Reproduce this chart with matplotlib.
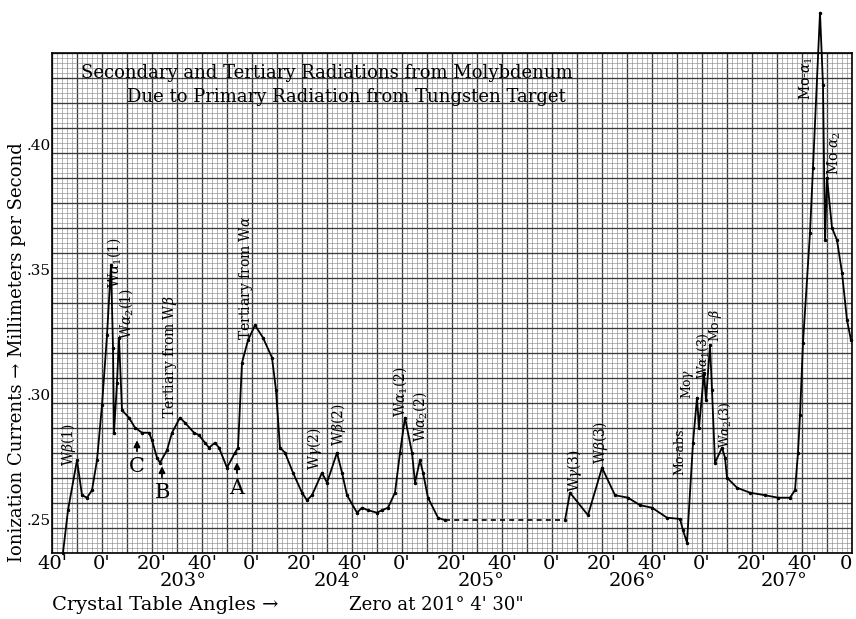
import matplotlib
matplotlib.use("Agg")
import matplotlib.pyplot as plt
import numpy as np

plt.rcParams['font.family'] = ['DejaVu Serif']
plt.rcParams['mathtext.fontset'] = 'dejavuserif'

# crystal table angle, minutes past 202 deg 0'
seg1_x = [44.4, 46.4, 50.0, 52.0, 54.0, 56.0, 58.0, 60.0, 62.0, 63.6,
          64.4, 64.8, 66.0, 66.8, 68.0, 70.8, 73.2, 76.0, 78.8, 80.0,
          82.0, 83.2, 86.0, 88.0, 91.2, 93.2, 96.8, 98.8, 101.2, 102.8,
          105.2, 106.8, 110.0, 113.2, 114.4, 116.0, 118.4, 121.2, 124.4, 128.0,
          129.6, 131.2, 133.2, 136.4, 140.0, 142.0, 144.0, 148.0, 150.0, 154.0,
          156.0, 158.0, 162.0, 164.0, 166.4, 170.0, 172.0, 174.4, 177.2, 179.2,
          181.2, 184.0, 185.2, 187.2, 188.4, 190.4, 194.4, 197.2]
seg1_y = [0.240, 0.257, 0.277, 0.263, 0.262, 0.265, 0.277, 0.299, 0.327, 0.355,
          0.322, 0.288, 0.308, 0.326, 0.297, 0.294, 0.290, 0.288, 0.288, 0.285,
          0.278, 0.276, 0.281, 0.288, 0.294, 0.292, 0.288, 0.287, 0.284, 0.282,
          0.284, 0.282, 0.274, 0.280, 0.282, 0.316, 0.325, 0.331, 0.326, 0.318,
          0.305, 0.282, 0.280, 0.272, 0.264, 0.261, 0.263, 0.272, 0.268, 0.280,
          0.272, 0.263, 0.256, 0.258, 0.257, 0.256, 0.257, 0.258, 0.264, 0.280,
          0.294, 0.280, 0.268, 0.277, 0.272, 0.262, 0.254, 0.253]

gap_x = [197.2, 245.2]
gap_y = [0.253, 0.253]

seg2_x = [245.2, 247.2, 254.4, 260.0, 265.2, 270.4, 275.2, 280.0, 286.0, 291.2,
          292.4, 294.0, 296.4, 298.0, 298.8, 300.8, 301.6, 303.2, 304.0, 305.2,
          308.0, 309.2, 310.0, 314.0, 319.2, 325.2, 330.4, 335.2, 337.2, 338.4,
          339.2, 340.4, 343.2, 344.4, 347.2, 348.4, 349.2, 350.0, 352.0, 354.0,
          356.0, 358.0, 359.6]
seg2_y = [0.253, 0.264, 0.255, 0.274, 0.263, 0.262, 0.259, 0.258, 0.254, 0.2535,
          0.249, 0.244, 0.284, 0.302, 0.290, 0.312, 0.301, 0.323, 0.305, 0.276,
          0.282, 0.278, 0.270, 0.266, 0.264, 0.263, 0.262, 0.262, 0.265, 0.280,
          0.295, 0.324, 0.368, 0.394, 0.456, 0.427, 0.365, 0.390, 0.370, 0.365,
          0.352, 0.333, 0.325]

# line labels (text, angle, current)
peak_names = ["W$\\beta$(1)", "W$\\alpha_1$(1)", "W$\\alpha_2$(1)",
              "Tertiary from W$\\beta$", "Tertiary from W$\\alpha$",
              "W$\\gamma$(2)", "W$\\beta$(2)", "W$\\alpha_1$(2)", "W$\\alpha_2$(2)",
              "W$\\gamma$(3)", "W$\\beta$(3)", "Mo-abs.", "Mo$\\gamma$",
              "W$\\alpha_1$(3)", "Mo-$\\beta$", "W$\\alpha_2$(3)",
              "Mo-$\\alpha_1$", "Mo-$\\alpha_2$"]
peak_x = [46.4, 64.8, 69.6, 87.2, 117.6, 144.8, 154.4, 179.2, 187.2,
          248.8, 259.2, 291.2, 294.4, 300.4, 305.4, 309.2, 341.6, 352.8]
peak_y = [0.2831, 0.3559, 0.3355, 0.3183, 0.3499, 0.2815, 0.2911, 0.3043, 0.2943,
          0.2727, 0.2839, 0.2811, 0.3075, 0.3187, 0.3311, 0.2911, 0.4299, 0.3999]

mark_names = ["C", "B", "A"]
mark_x = [74, 84, 114]
mark_y = [0.2743, 0.2639, 0.2655]

degree_names = ["203°", "204°", "205°", "206°", "207°"]
degree_x = [92.4, 154, 211.6, 272, 333]

fig = plt.figure(figsize=(8.56, 6.19), dpi=100)
ax = fig.add_axes([52/856, 1-552.7/619, 800/856, 500/619])

ax.set_xlim(40, 360)
ax.set_ylim(0.24, 0.44)

xt = np.arange(40, 361, 10)
ax.set_xticks(xt)
ax.set_xticklabels([f"{int(m) % 60}'" if m % 20 == 0 else '' for m in xt], fontsize=14)
xlabs = ax.get_xticklabels()
xlabs[-1].set_text("0")
xlabs[-1].set_ha('right')
ax.set_xticklabels(xlabs)
ax.set_xticks(np.arange(40, 361, 2), minor=True)
yt = np.round(np.arange(0.24, 0.4401, 0.01), 3)
ax.set_yticks(yt)
ylabs = []
for v in yt:
    if abs(v * 100 - round(v * 20) * 5) < 1e-6 and 0.245 < v < 0.435:
        ylabs.append('.' + f"{v:.2f}"[2:])
    else:
        ylabs.append('')
ax.set_yticklabels(ylabs, fontsize=11)
for lab in ax.get_yticklabels():
    lab.set_va('bottom')
ax.set_yticks(np.arange(0.24, 0.4401, 0.002), minor=True)
ax.tick_params(which='both', length=0)
ax.tick_params(axis='x', pad=2)
ax.tick_params(axis='y', pad=1)

ax.grid(which='minor', color='#8c8c8c', lw=0.45)
ax.grid(which='major', color='#3a3a3a', lw=0.95)
ax.set_axisbelow(True)
for s in ax.spines.values():
    s.set_linewidth(1.2)

ax.plot(seg1_x, seg1_y, '-', color='k', lw=1.3, marker='.', ms=3, clip_on=False)
ax.plot(gap_x, gap_y, '--', color='k', lw=1.2, dashes=(3, 2.5))
ax.plot(seg2_x, seg2_y, '-', color='k', lw=1.3, marker='.', ms=3, clip_on=False)

for i, (name, x, y) in enumerate(zip(peak_names, peak_x, peak_y)):
    fs = 9 if 11 <= i <= 15 else 10
    ax.text(x, y, name, rotation=90, ha='center', va='center', fontsize=fs)

for name, x, y in zip(mark_names, mark_x, mark_y):
    ax.text(x, y, name, ha='center', va='center', fontsize=15)
    ax.annotate('', xy=(x, y + 0.0118), xytext=(x, y + 0.0052),
                arrowprops=dict(arrowstyle='-|>', color='k', lw=1.3, mutation_scale=9))

for name, x in zip(degree_names, degree_x):
    ax.text(x, -0.057, name, ha='center', va='center', fontsize=14,
            transform=ax.get_xaxis_transform())

ax.text(0.344, 0.959, "Secondary and Tertiary Radiations from Molybdenum",
        ha='center', va='center', fontsize=13, transform=ax.transAxes)
ax.text(0.3675, 0.911, "Due to Primary Radiation from Tungsten Target",
        ha='center', va='center', fontsize=13, transform=ax.transAxes)

fig.text(17/856, 1-352/619, "Ionization Currents → Millimeters per Second",
         rotation=90, ha='center', va='center', fontsize=13)
fig.text(52/856, 1-605/619, "Crystal Table Angles →", ha='left', va='center', fontsize=14)
fig.text(436/856, 1-605/619, "Zero at 201° 4' 30\"", ha='center', va='center', fontsize=13)

fig.savefig("out.png", dpi=100)
